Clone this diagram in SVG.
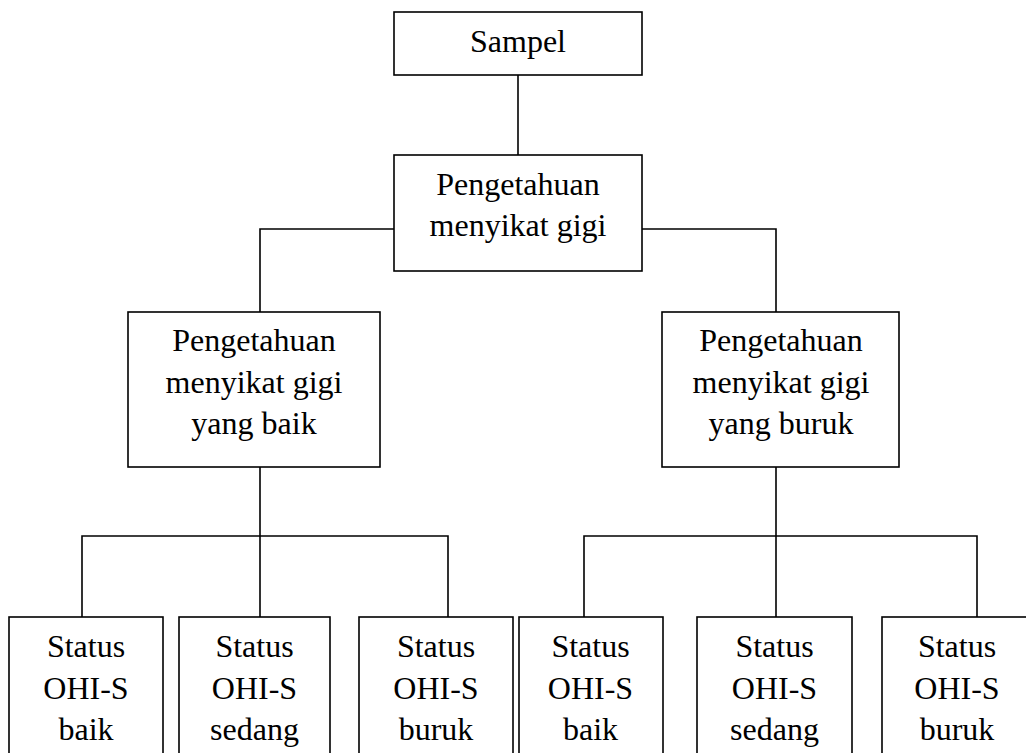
<svg xmlns="http://www.w3.org/2000/svg" width="1026" height="753" viewBox="0 0 1026 753">
<style>
.box{fill:#fff;stroke:#000;stroke-width:1.6}
.ln{fill:none;stroke:#000;stroke-width:1.6}
text{font-family:"Liberation Serif","Times New Roman",serif;font-size:32px;fill:#000;text-anchor:middle}
</style>
<rect x="0" y="0" width="1026" height="753" fill="#fff"/>
<g id="connectors">
<path class="ln" d="M518 75V155"/>
<path class="ln" d="M394 229H260V312"/>
<path class="ln" d="M642 229H776V312"/>
<path class="ln" d="M260 467V617M82 617V536H448V617"/>
<path class="ln" d="M776 467V617M584 617V536H977V617"/>
</g>
<g id="sampel"><rect class="box" x="394" y="12" width="248" height="63"/><text x="518" y="52">Sampel</text></g>
<g id="pengetahuan"><rect class="box" x="394" y="155" width="248" height="116"/><text x="518" y="195">Pengetahuan</text><text x="518" y="236">menyikat gigi</text></g>
<g id="baik"><rect class="box" x="128" y="312" width="252" height="155"/><text x="254" y="351">Pengetahuan</text><text x="254" y="392.5">menyikat gigi</text><text x="254" y="434">yang baik</text></g>
<g id="buruk"><rect class="box" x="662" y="312" width="237" height="155"/><text x="781" y="351">Pengetahuan</text><text x="781" y="392.5">menyikat gigi</text><text x="781" y="434">yang buruk</text></g>
<g id="b1"><rect class="box" x="9" y="617" width="154" height="150"/><text x="86" y="657">Status</text><text x="86" y="698.5">OHI-S</text><text x="86" y="740">baik</text></g>
<g id="b2"><rect class="box" x="179" y="617" width="151" height="150"/><text x="254.5" y="657">Status</text><text x="254.5" y="698.5">OHI-S</text><text x="254.5" y="740">sedang</text></g>
<g id="b3"><rect class="box" x="359" y="617" width="154" height="150"/><text x="436" y="657">Status</text><text x="436" y="698.5">OHI-S</text><text x="436" y="740">buruk</text></g>
<g id="b4"><rect class="box" x="519" y="617" width="144" height="150"/><text x="590.5" y="657">Status</text><text x="590.5" y="698.5">OHI-S</text><text x="590.5" y="740">baik</text></g>
<g id="b5"><rect class="box" x="697" y="617" width="155" height="150"/><text x="774.5" y="657">Status</text><text x="774.5" y="698.5">OHI-S</text><text x="774.5" y="740">sedang</text></g>
<g id="b6"><rect class="box" x="882" y="617" width="150" height="150"/><text x="957" y="657">Status</text><text x="957" y="698.5">OHI-S</text><text x="957" y="740">buruk</text></g>
</svg>
